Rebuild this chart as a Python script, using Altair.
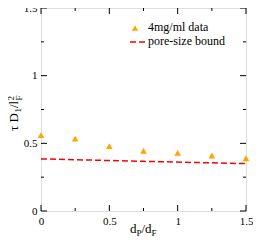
import altair as alt
import pandas as pd

# data
ratio = [0.0, 0.25, 0.5, 0.75, 1.0, 1.25, 1.5]
measured = [0.56, 0.535, 0.48, 0.445, 0.43, 0.41, 0.39]
bound_x = [0.0, 0.75, 1.5]
bound_y = [0.385, 0.367, 0.35]
major_ticks = [0.0, 0.5, 1.0, 1.5]
minor_ticks = [0.25, 0.75, 1.25]
legend_labels = ["4mg/ml data", "pore-size bound"]

W, H = 205, 203
FONT = "Liberation Serif, Times New Roman, serif"
ORANGE = "#FFA500"
RED = "#FF0000"

pts = pd.DataFrame({"x": ratio, "y": measured})
bnd = pd.DataFrame({"x": bound_x, "y": bound_y})
maj = pd.DataFrame({"v": major_ticks})
mnr = pd.DataFrame({"v": minor_ticks})

xs = alt.Scale(domain=[0, 1.5], nice=False, zero=False)
ys = alt.Scale(domain=[0, 1.5], nice=False, zero=False)

xaxis = alt.Axis(values=major_ticks, labelExpr="datum.value", title="", grid=False,
                 ticks=False, tickSize=0, domain=False, labelFont=FONT,
                 labelFontSize=11, labelPadding=4, labelColor="black", labelFlush=False)
yaxis = alt.Axis(values=major_ticks, labelExpr="datum.value", title="", grid=False,
                 ticks=False, tickSize=0, domain=False, labelFont=FONT,
                 labelFontSize=11, labelPadding=4, labelColor="black", labelFlush=False)

base_pts = alt.Chart(pts).mark_point(shape="triangle-up", filled=True, size=45,
                                      color=ORANGE, opacity=1).encode(
    x=alt.X("x:Q", scale=xs, axis=xaxis),
    y=alt.Y("y:Q", scale=ys, axis=yaxis),
)

line = alt.Chart(bnd).mark_line(color=RED, strokeDash=[6, 3], strokeWidth=1.5).encode(
    x=alt.X("x:Q", scale=xs),
    y=alt.Y("y:Q", scale=ys),
)

def ticks(df, side, length):
    m = alt.Chart(df).mark_rule(color="black", strokeWidth=1)
    if side == "left":
        return m.encode(y=alt.Y("v:Q", scale=ys), x=alt.value(0), x2=alt.value(length))
    if side == "right":
        return m.encode(y=alt.Y("v:Q", scale=ys), x=alt.value(W), x2=alt.value(W - length))
    if side == "bottom":
        return m.encode(x=alt.X("v:Q", scale=xs), y=alt.value(H), y2=alt.value(H - length))
    return m.encode(x=alt.X("v:Q", scale=xs), y=alt.value(0), y2=alt.value(length))

tick_layers = []
for side in ["left", "right", "bottom", "top"]:
    tick_layers.append(ticks(maj, side, 6))
    tick_layers.append(ticks(mnr, side, 3))

def txt(s, x, y, size, angle=0, baseline="alphabetic"):
    kw = dict(text=s, font=FONT, fontSize=size, align="left", baseline=baseline, color="black")
    if angle:
        kw["angle"] = angle
    return alt.Chart(pd.DataFrame({"a": [0]})).mark_text(**kw).encode(
        x=alt.value(x), y=alt.value(y))

# y title: tau D_1 / l^2_F
ytitle = [
    txt("τ D", -23, 123, 13, 270),
    txt("1", -20, 104.5, 9, 270),
    txt("/l", -23, 100, 13, 270),
    txt("2", -27, 92.5, 9, 270),
    txt("F", -19, 92.5, 9, 270),
]
# x title: d_P / d_F
xtitle = [
    txt("d", 89, 225, 13),
    txt("P", 95.5, 228, 9),
    txt("/d", 100.5, 225, 13),
    txt("F", 110.6, 228, 9),
]

# legend
leg_sym = alt.Chart(pd.DataFrame({"a": [0]})).mark_point(
    shape="triangle-up", filled=True, size=40, color=ORANGE, opacity=1).encode(
    x=alt.value(94), y=alt.value(20))
leg_line = alt.Chart(pd.DataFrame({"a": [0]})).mark_rule(
    color=RED, strokeDash=[6, 3], strokeWidth=1.5).encode(
    x=alt.value(89), x2=alt.value(104), y=alt.value(34))
leg_txt = [
    txt(legend_labels[0], 107, 19, 12, baseline="middle"),
    txt(legend_labels[1], 107, 33, 12, baseline="middle"),
]

chart = alt.layer(line, base_pts, *tick_layers, *ytitle, *xtitle, leg_sym, leg_line, *leg_txt).properties(
    width=W, height=H,
    autosize=alt.AutoSizeParams(type="none"),
    padding={"left": 33, "top": 0, "right": 7, "bottom": 26},
).configure_view(stroke="black", strokeWidth=1).configure(background="white")

chart.save("out.html", embed_options={"renderer": "svg", "actions": False})
